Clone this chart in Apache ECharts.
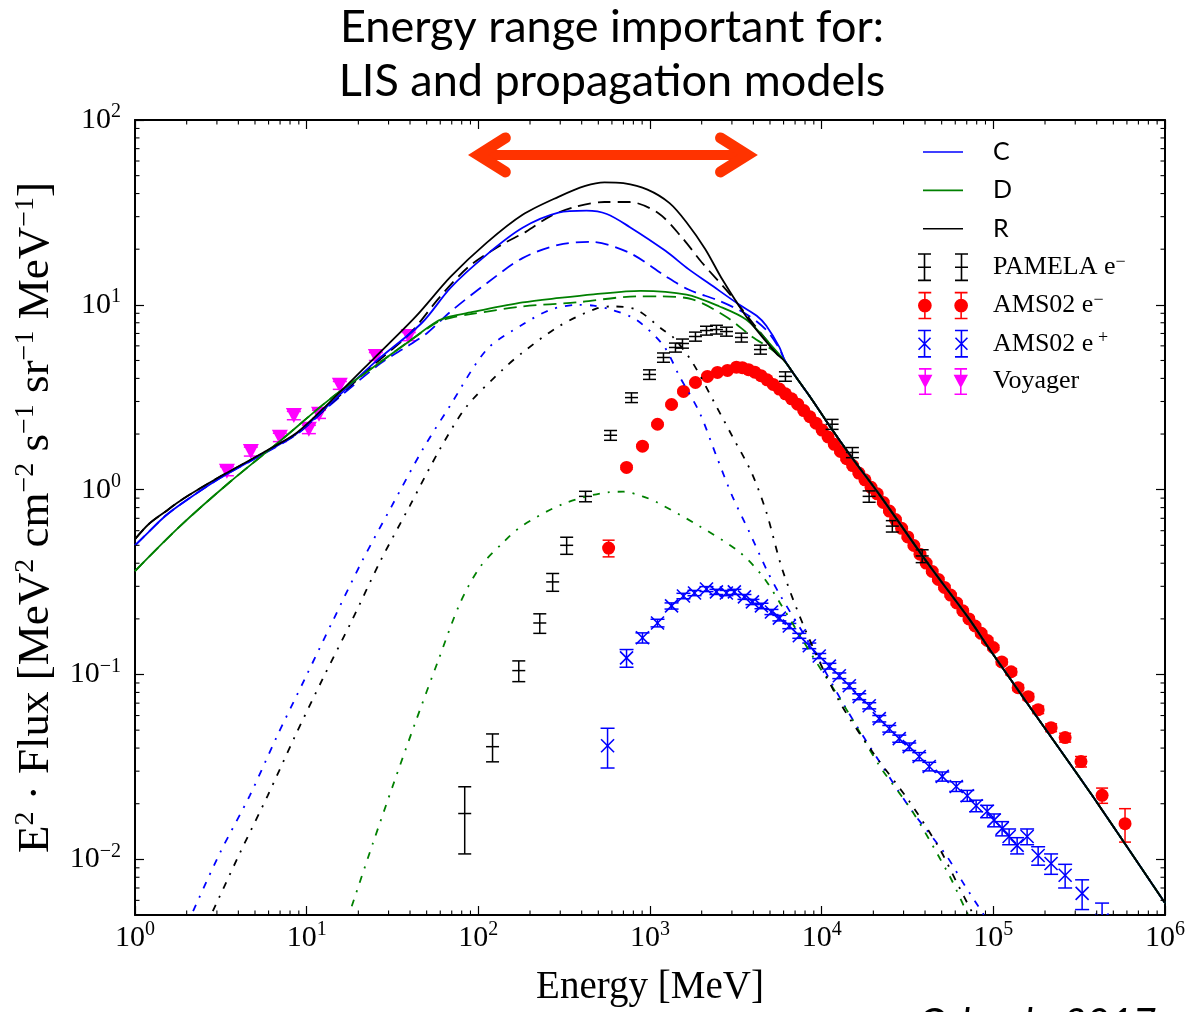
<!DOCTYPE html>
<html>
<head>
<meta charset="utf-8">
<title>Energy range important for LIS and propagation models</title>
<script src="https://cdn.jsdelivr.net/npm/echarts@6/dist/echarts.min.js"></script>
<style>
  html, body { margin: 0; padding: 0; background: #fff; }
  #chart { width: 1188px; height: 1012px; }
</style>
</head>
<body>
<div id="chart"></div>
<script>
// axis ranges and decade ticks
var xRange = [1, 1e6];
var yRange = [0.005, 100];
var xDecades = [1, 10, 100, 1e3, 1e4, 1e5, 1e6];
var yDecades = [0.01, 0.1, 1, 10, 100];

// model curves, [energy MeV, E^2 flux]; all six merge above ~7 GeV
var modelTail = [[7000, 4.13], [8830, 3.05], [11100, 2.22], [15100, 1.48], [21700, 0.94], [42300, 0.39],
  [72300, 0.2], [94600, 0.138], [155000, 0.0715], [376000, 0.0222], [1000000, 0.0058]];

var cSolid = [[1, 0.50], [1.2, 0.59], [1.5, 0.72], [1.9, 0.85], [3.1, 1.15], [5.6, 1.57], [8.8, 2.02],
  [13.6, 2.9], [25, 4.9], [47, 8.0], [69, 12.4], [112, 18.7], [181, 26.1], [293, 31.5], [427, 32.3],
  [560, 31], [760, 26.4], [1230, 19.6], [1676, 15.6], [2220, 13.0], [3320, 10.0], [4200, 8.7],
  [4760, 7.7], [5670, 5.9], [6100, 5.0]];
var dSolid = [[1, 0.363], [1.83, 0.635], [3.57, 1.10], [6.98, 1.83], [13.6, 3.08], [26.7, 4.88], [40, 6.4],
  [57, 8.1], [69, 8.65], [90, 9.1], [181, 10.3], [297, 10.9], [469, 11.4], [881, 11.9], [1633, 11.35],
  [2540, 9.8], [3645, 8.3], [5160, 5.95], [6100, 4.95]];
var rSolid = [[1, 0.54], [1.2, 0.65], [1.5, 0.76], [1.9, 0.89], [3.1, 1.17], [5.6, 1.59], [8.8, 2.04],
  [13.6, 2.97], [25, 5.2], [43, 8.6], [69, 14.2], [112, 21.7], [181, 30.7], [293, 38.4], [420, 44],
  [543, 46], [700, 45.5], [967, 42], [1300, 35.5], [1630, 28], [2100, 20], [2640, 13.7], [3650, 8.6],
  [4700, 6.4], [5500, 5.4], [6100, 4.95]];

var cDashed = [[1, 0.50], [1.2, 0.59], [1.5, 0.72], [1.9, 0.85], [3.1, 1.15], [5.6, 1.56], [8.8, 2.0],
  [13.6, 2.85], [26.7, 4.8], [39, 6.0], [50, 7.0], [69, 9.2], [112, 13.1], [181, 17.9], [293, 21.1],
  [451, 21.9], [760, 19.1], [1230, 14.3], [1676, 12.1], [2540, 10.5], [3645, 8.9], [4760, 7.3],
  [5670, 5.8], [6100, 5.0]];
var dDashed = [[1, 0.363], [1.83, 0.635], [3.57, 1.10], [6.98, 1.83], [13.6, 3.08], [26.7, 4.88], [40, 6.4],
  [57, 8.0], [69, 8.5], [90, 8.9], [181, 9.8], [371, 10.3], [835, 11.1], [1137, 11.1], [1767, 10.7],
  [2790, 8.6], [3950, 6.7], [5160, 5.7], [6100, 4.95]];
var rDashed = [[1, 0.54], [1.2, 0.65], [1.5, 0.76], [1.9, 0.89], [3.1, 1.17], [5.6, 1.58], [8.8, 2.02],
  [13.6, 2.88], [25, 4.8], [40, 7.0], [60, 11.1], [88, 16.1], [136, 21.1], [190, 24.9], [265, 30.3],
  [371, 34.0], [543, 36.0], [760, 36.0], [1115, 31.4], [1521, 23.4], [2000, 17], [2900, 11.5],
  [4000, 7.9], [5500, 5.5], [6100, 4.95]];

var cDotted = [[2.18, 0.00524], [3.12, 0.0108], [4.67, 0.0222], [6.7, 0.0461], [9.76, 0.0948], [14.2, 0.195],
  [20.9, 0.406], [31.3, 0.815], [47.4, 1.65], [68, 2.82], [112, 5.73], [181, 7.82], [264, 9.42],
  [380, 10.0], [469, 9.9], [600, 9.4], [832, 8.3], [1200, 6.0], [1486, 4.1], [1942, 2.62], [2437, 1.52],
  [3020, 0.92], [3790, 0.59], [4760, 0.372], [5670, 0.273], [8840, 0.138], [13900, 0.0653],
  [21700, 0.0338], [33700, 0.0182], [53200, 0.0105], [65900, 0.0076], [87000, 0.0051], [100000, 0.0042]];
var dDotted = [[18.3, 0.00557], [24.3, 0.0122], [31.8, 0.0251], [42.7, 0.0542], [58, 0.117], [77.9, 0.241],
  [102, 0.38], [140, 0.52], [179, 0.635], [310, 0.835], [581, 0.97], [700, 0.975], [904, 0.92],
  [1091, 0.857], [1942, 0.635], [3320, 0.46], [4520, 0.341], [5670, 0.247], [8840, 0.126],
  [13900, 0.065], [21700, 0.0321], [33700, 0.0182], [55300, 0.0082], [70000, 0.0052], [80000, 0.0042]];
var rDotted = [[2.84, 0.00524], [4.08, 0.0108], [5.94, 0.0222], [8.53, 0.0461], [12.4, 0.0948], [18.3, 0.195],
  [26.7, 0.406], [39.8, 0.815], [59.6, 1.65], [85.5, 2.82], [140, 4.5], [181, 5.52], [293, 7.63],
  [494, 9.6], [620, 9.8], [835, 9.4], [1183, 7.35], [1352, 6.74], [1767, 4.88], [2437, 2.82],
  [3020, 1.94], [3900, 1.24], [4760, 0.757], [5900, 0.37], [8130, 0.17], [12700, 0.0713],
  [19700, 0.0383], [32400, 0.0206], [48400, 0.0115], [60800, 0.0076], [75000, 0.0052], [90000, 0.0038]];

// measurements, [energy MeV, E^2 flux, error]
var pamela = [[83.3, 0.0177, 0.007], [121, 0.0407, 0.007], [172, 0.105, 0.0135], [228, 0.19, 0.023],
  [271, 0.317, 0.035], [327, 0.50, 0.053], [421, 0.92, 0.06], [589, 1.97, 0.12], [780, 3.15, 0.19],
  [993, 4.2, 0.25], [1198, 5.19, 0.3], [1407, 5.88, 0.33], [1546, 6.18, 0.35], [1840, 6.74, 0.38],
  [2133, 7.26, 0.4], [2438, 7.35, 0.4], [2789, 7.17, 0.4], [3410, 6.66, 0.37], [4400, 5.73, 0.32],
  [6150, 4.10, 0.24], [11500, 2.26, 0.14], [15100, 1.59, 0.1], [18900, 0.92, 0.065],
  [25800, 0.635, 0.045], [38500, 0.438, 0.035]];
var amsElectron = [[574, 0.483, 0.05], [730, 1.32, 0.03], [904, 1.72, 0.03], [1106, 2.26, 0.04],
  [1335, 2.89, 0.05], [1567, 3.40, 0.06], [1840, 3.80, 0.07], [2161, 4.10, 0.07], [2472, 4.31, 0.07],
  [2827, 4.42, 0.07], [3187, 4.60, 0.08], [3450, 4.57, 0.07], [3750, 4.46, 0.07], [4080, 4.32, 0.07],
  [4430, 4.14, 0.06], [4810, 3.93, 0.06], [5220, 3.71, 0.06], [5670, 3.50, 0.05], [6150, 3.30, 0.05],
  [6680, 3.10, 0.05], [7250, 2.90, 0.05], [7870, 2.68, 0.04], [8540, 2.48, 0.04], [9270, 2.29, 0.04],
  [10060, 2.10, 0.04], [10900, 1.93, 0.03], [11850, 1.76, 0.03], [12870, 1.61, 0.03], [13970, 1.47, 0.03],
  [15160, 1.35, 0.03], [16460, 1.23, 0.02], [17870, 1.13, 0.02], [19400, 1.03, 0.02], [21060, 0.95, 0.02],
  [22860, 0.853, 0.017], [24810, 0.766, 0.015], [26930, 0.689, 0.014], [29240, 0.618, 0.012],
  [31740, 0.555, 0.011], [34450, 0.499, 0.01], [37400, 0.448, 0.009], [40600, 0.401, 0.008],
  [44070, 0.361, 0.008], [47840, 0.327, 0.007], [51930, 0.296, 0.007], [56370, 0.269, 0.006],
  [61190, 0.244, 0.006], [66420, 0.221, 0.005], [72100, 0.200, 0.005], [78270, 0.183, 0.005],
  [84960, 0.167, 0.005], [92230, 0.153, 0.005], [100000, 0.140, 0.004], [112000, 0.117, 0.004],
  [127000, 0.1035, 0.004], [139500, 0.0848, 0.003], [159700, 0.0759, 0.003], [182500, 0.0645, 0.003],
  [217000, 0.0516, 0.0025], [262000, 0.0456, 0.0025], [324000, 0.0338, 0.0022], [430000, 0.0222, 0.0021],
  [585000, 0.0156, 0.0032]];
var amsPositron = [[566, 0.0412, 0.0100], [730, 0.123, 0.0135], [904, 0.158, 0.010], [1106, 0.190, 0.009],
  [1335, 0.235, 0.009], [1566, 0.266, 0.009], [1816, 0.276, 0.009], [2133, 0.290, 0.009], [2437, 0.280, 0.009],
  [2786, 0.276, 0.009], [3100, 0.280, 0.009], [3550, 0.263, 0.008], [3950, 0.247, 0.008], [4460, 0.235, 0.008],
  [5100, 0.218, 0.007], [5670, 0.202, 0.007], [6480, 0.183, 0.006], [7410, 0.162, 0.005], [8470, 0.143, 0.005],
  [9680, 0.126, 0.004], [11090, 0.111, 0.004], [12670, 0.0985, 0.0035], [14490, 0.0869, 0.0031],
  [16560, 0.0759, 0.0028], [18930, 0.0678, 0.0026], [21660, 0.0577, 0.0023], [24770, 0.0509, 0.0021],
  [28320, 0.0450, 0.002], [32380, 0.0407, 0.0019], [37000, 0.0360, 0.0018], [42330, 0.0318, 0.0017],
  [50400, 0.0281, 0.0016], [60800, 0.0248, 0.0015], [70500, 0.0221, 0.0015], [79400, 0.0195, 0.0014],
  [92000, 0.0182, 0.0014], [101000, 0.0163, 0.0013], [112500, 0.0147, 0.0013], [123600, 0.0133, 0.0013],
  [137600, 0.0119, 0.0012], [157300, 0.0133, 0.0013], [182400, 0.0105, 0.0012], [217000, 0.0095, 0.0012],
  [262000, 0.0082, 0.0012], [329000, 0.00655, 0.0012], [430000, 0.0047, 0.0011]];
var voyager = [[3.43, 1.26, 0.07], [4.73, 1.61, 0.09], [6.98, 1.92, 0.1], [8.42, 2.52, 0.13], [10.3, 2.12, 0.11],
  [11.8, 2.56, 0.13], [15.6, 3.67, 0.18], [25.3, 5.26, 0.26], [39.3, 6.74, 0.34]];

// annotation arrow: [left energy, right energy, flux level]
var arrowSpan = [100, 3700, 64.7];

var serif = '"Liberation Serif", "Times New Roman", serif';
var sans = 'Lato, Calibri, "Open Sans", sans-serif';
var BLUE = '#0000ff', GREEN = '#008000', BLACK = '#000000', RED = '#ff0000', MAGENTA = '#ff00ff';

function minorTicks(range) {
  var out = [];
  for (var d = 1e-3; d < range[1]; d *= 10) {
    for (var k = 2; k <= 9; k++) {
      var v = +(k * d).toPrecision(6);
      if (v > range[0] && v < range[1]) out.push(v);
    }
  }
  return out;
}
var xMinor = minorTicks(xRange), yMinor = minorTicks(yRange);

function powLabel(v) {
  var e = Math.round(Math.log10(v));
  return '{b|10}{e|' + (e < 0 ? '\u2212' + (-e) : e) + '}';
}
var labelRich = {
  b: { fontFamily: serif, fontSize: 30, lineHeight: 36, color: '#000' },
  e: { fontFamily: serif, fontSize: 20, lineHeight: 20, verticalAlign: 'top', color: '#000' }
};

function logAxis(dim, pos, ticks) {
  var r = dim === 'x' ? xRange : yRange;
  return {
    type: 'log', logBase: 10, position: pos, min: r[0], max: r[1],
    axisLine: { show: true, onZero: false, lineStyle: { color: '#000', width: 2 } },
    axisTick: { show: true, inside: true, length: 9, customValues: ticks, lineStyle: { color: '#000', width: 1.2 } },
    axisLabel: { show: false },
    splitLine: { show: false },
    minorTick: { show: false }
  };
}

var xMain = logAxis('x', 'bottom', xDecades);
xMain.axisLabel = { show: true, customValues: xDecades, formatter: powLabel, margin: 5, rich: labelRich };
xMain.name = 'Energy [MeV]';
xMain.nameLocation = 'middle';
xMain.nameGap = 53;
xMain.nameTextStyle = { fontFamily: serif, fontSize: 39, color: '#000' };

var yMain = logAxis('y', 'left', yDecades);
yMain.axisLabel = { show: true, customValues: yDecades, formatter: powLabel, margin: 14, rich: labelRich };
yMain.name = '{n|E}{s|2}{n| \u00b7 Flux [MeV}{s|2}{n| cm}{s|\u22122}{n| s}{s|\u22121}{n| sr}{s|\u22121}{n| MeV}{s|\u22121}{n|]}';
yMain.nameLocation = 'middle';
yMain.nameGap = 71;
yMain.nameTextStyle = {
  color: '#000',
  rich: {
    n: { fontFamily: serif, fontSize: 45, lineHeight: 50, color: '#000' },
    s: { fontFamily: serif, fontSize: 28, lineHeight: 28, verticalAlign: 'top', color: '#000' }
  }
};

// minor ticks on all four sides, placed through the axis scales
function minorTickSeries(dim) {
  var data = dim === 'x'
    ? xMinor.map(function (v) { return [v, yRange[0]]; })
    : yMinor.map(function (v) { return [xRange[0], v]; });
  return {
    type: 'custom', name: dim + ' minor ticks', data: data, clip: false, silent: true, z: 4,
    renderItem: function (params, api) {
      var st = { stroke: '#000', lineWidth: 1.1 };
      var len = 4.5;
      if (dim === 'x') {
        var v = api.value(0);
        var b = api.coord([v, yRange[0]]), t = api.coord([v, yRange[1]]);
        return { type: 'group', children: [
          { type: 'line', shape: { x1: b[0], y1: b[1], x2: b[0], y2: b[1] - len }, style: st },
          { type: 'line', shape: { x1: t[0], y1: t[1], x2: t[0], y2: t[1] + len }, style: st }
        ] };
      }
      var w = api.value(1);
      var l = api.coord([xRange[0], w]), r = api.coord([xRange[1], w]);
      return { type: 'group', children: [
        { type: 'line', shape: { x1: l[0], y1: l[1], x2: l[0] + len, y2: l[1] }, style: st },
        { type: 'line', shape: { x1: r[0], y1: r[1], x2: r[0] - len, y2: r[1] }, style: st }
      ] };
    }
  };
}

// legend icons (50 x 28 boxes)
function rect(x, y, w, h) { return 'M' + x + ',' + y + 'h' + w + 'v' + h + 'h' + (-w) + 'z'; }
function bar(cx) { return rect(cx - 6.5, 0, 13, 1.6) + rect(cx - 0.8, 0, 1.6, 28) + rect(cx - 6.5, 26.4, 13, 1.6); }
function circ(cx, cy, r) {
  return 'M' + (cx - r) + ',' + cy + 'a' + r + ',' + r + ' 0 1,1 ' + (2 * r) + ',0a' + r + ',' + r + ' 0 1,1 ' + (-2 * r) + ',0z';
}
function seg(x1, y1, x2, y2, w) {
  var dx = x2 - x1, dy = y2 - y1, L = Math.sqrt(dx * dx + dy * dy);
  var nx = dy / L * w / 2, ny = -dx / L * w / 2;
  return 'M' + (x1 + nx) + ',' + (y1 + ny) + 'L' + (x2 + nx) + ',' + (y2 + ny) +
    'L' + (x2 - nx) + ',' + (y2 - ny) + 'L' + (x1 - nx) + ',' + (y1 - ny) + 'z';
}
function iconOf(glyph) { return 'path://' + glyph(6.5) + glyph(43.5); }
var lineIcon = 'path://M0,0L0,0M50,28L50,28' + rect(5, 13.2, 40, 1.6);
var pamelaIcon = iconOf(function (c) { return bar(c) + rect(c - 6.5, 13.2, 13, 1.6); });
var electronIcon = iconOf(function (c) { return bar(c) + circ(c, 14, 7); });
var positronIcon = iconOf(function (c) { return bar(c) + seg(c - 6, 8, c + 6, 20, 1.6) + seg(c + 6, 8, c - 6, 20, 1.6); });
var voyagerIcon = iconOf(function (c) { return bar(c) + 'M' + (c - 7.5) + ',7L' + (c + 7.5) + ',7L' + c + ',21z'; });

var legendText = {
  'C': '{sans|C}', 'D': '{sans|D}', 'R': '{sans|R}',
  'PAMELA e\u2212': '{serif|PAMELA e}{sup|\u2212}',
  'AMS02 e\u2212': '{serif|AMS02 e}{sup|\u2212}',
  'AMS02 e+': '{serif|AMS02 e}{sup| +}',
  'Voyager': '{serif|Voyager}'
};

function modelLine(name, data, color, type) {
  return {
    type: 'line', name: name, data: data, showSymbol: false, symbol: 'none',
    smooth: 0.3, clip: true, z: 3,
    itemStyle: { color: color },
    lineStyle: { color: color, width: 1.8, type: type }
  };
}
function withTail(arr) { return arr.concat(modelTail); }

// error bar + marker drawn through the axes' scales
function errorSeries(name, data, color, marker, capHalf) {
  return {
    type: 'custom', name: name, data: data, clip: true, z: 2,
    itemStyle: { color: color },
    renderItem: function (params, api) {
      var e = api.value(0), f = api.value(1), s = api.value(2);
      var p = api.coord([e, f]);
      var lo = api.coord([e, Math.max(f - s, 1e-6)]);
      var hi = api.coord([e, f + s]);
      var ln = { stroke: color, lineWidth: 1.5 };
      var kids = [
        { type: 'line', shape: { x1: p[0], y1: lo[1], x2: p[0], y2: hi[1] }, style: ln },
        { type: 'line', shape: { x1: p[0] - capHalf, y1: lo[1], x2: p[0] + capHalf, y2: lo[1] }, style: ln },
        { type: 'line', shape: { x1: p[0] - capHalf, y1: hi[1], x2: p[0] + capHalf, y2: hi[1] }, style: ln }
      ];
      if (marker === 'dash') {
        kids.push({ type: 'line', shape: { x1: p[0] - capHalf, y1: p[1], x2: p[0] + capHalf, y2: p[1] }, style: ln });
      } else if (marker === 'circle') {
        kids.push({ type: 'circle', shape: { cx: p[0], cy: p[1], r: 6.5 }, style: { fill: color } });
      } else if (marker === 'x') {
        var xs = { stroke: color, lineWidth: 1.6 };
        kids.push({ type: 'line', shape: { x1: p[0] - 6.5, y1: p[1] - 6.5, x2: p[0] + 6.5, y2: p[1] + 6.5 }, style: xs });
        kids.push({ type: 'line', shape: { x1: p[0] - 6.5, y1: p[1] + 6.5, x2: p[0] + 6.5, y2: p[1] - 6.5 }, style: xs });
      } else if (marker === 'tri') {
        kids.push({ type: 'polygon', shape: { points: [[p[0] - 8, p[1] - 7.5], [p[0] + 8, p[1] - 7.5], [p[0], p[1] + 7.5]] }, style: { fill: color } });
      }
      return { type: 'group', children: kids };
    }
  };
}

var chart = echarts.init(document.getElementById('chart'));
var option = {
  animation: false,
  backgroundColor: '#fff',
  title: {
    text: 'Energy range important for:\nLIS and propagation models',
    left: 612, top: 0, padding: 0, textAlign: 'center',
    textStyle: { fontFamily: sans, fontSize: 45, fontWeight: 'normal', lineHeight: 54, color: '#000' }
  },
  grid: { left: 135, right: 22, top: 120, bottom: 96, containLabel: false },
  xAxis: [xMain, logAxis('x', 'top', xDecades)],
  yAxis: [yMain, logAxis('y', 'right', yDecades)],
  legend: {
    orient: 'vertical', left: 918, top: 138, padding: 0,
    itemWidth: 50, itemHeight: 28, itemGap: 10.4,
    itemStyle: { borderWidth: 0 },
    data: [
      { name: 'C', icon: lineIcon }, { name: 'D', icon: lineIcon }, { name: 'R', icon: lineIcon },
      { name: 'PAMELA e\u2212', icon: pamelaIcon }, { name: 'AMS02 e\u2212', icon: electronIcon },
      { name: 'AMS02 e+', icon: positronIcon }, { name: 'Voyager', icon: voyagerIcon }
    ],
    formatter: function (name) { return legendText[name]; },
    textStyle: {
      color: '#000',
      rich: {
        sans: { fontFamily: sans, fontSize: 25, lineHeight: 28, padding: [0, 0, 0, 20], color: '#000' },
        serif: { fontFamily: serif, fontSize: 26, lineHeight: 28, padding: [0, 0, 0, 20], color: '#000' },
        sup: { fontFamily: serif, fontSize: 18, lineHeight: 18, verticalAlign: 'top', color: '#000' }
      }
    }
  },
  graphic: [{
    type: 'text', left: 918, top: 1004, silent: true,
    style: { text: 'Orlando 2017 et al.', fontFamily: sans, fontSize: 40, fontStyle: 'italic', fill: '#000' }
  }],
  series: [
    minorTickSeries('x'),
    minorTickSeries('y'),
    errorSeries('Voyager', voyager, MAGENTA, 'tri', 7),
    errorSeries('AMS02 e\u2212', amsElectron, RED, 'circle', 6),
    errorSeries('AMS02 e+', amsPositron, BLUE, 'x', 7),
    errorSeries('PAMELA e\u2212', pamela, BLACK, 'dash', 6.5),
    modelLine('C dotted', cDotted, BLUE, [7, 8, 2, 8]),
    modelLine('D dotted', dDotted, GREEN, [7, 8, 2, 8]),
    modelLine('R dotted', rDotted, BLACK, [7, 8, 2, 8]),
    modelLine('C dashed', withTail(cDashed), BLUE, [13, 7]),
    modelLine('D dashed', withTail(dDashed), GREEN, [13, 7]),
    modelLine('R dashed', withTail(rDashed), BLACK, [13, 7]),
    modelLine('C', withTail(cSolid), BLUE, 'solid'),
    modelLine('D', withTail(dSolid), GREEN, 'solid'),
    modelLine('R', withTail(rSolid), BLACK, 'solid'),
    {
      type: 'custom', name: 'range arrow', data: [arrowSpan], clip: false, silent: true, z: 5,
      encode: { x: [0, 1], y: 2 },
      renderItem: function (params, api) {
        var a = api.coord([api.value(0), api.value(2)]);
        var b = api.coord([api.value(1), api.value(2)]);
        var st = { stroke: '#ff3300', lineWidth: 11, lineCap: 'round', lineJoin: 'miter', fill: null };
        var hl = 27, hw = 17;
        return {
          type: 'group', children: [
            { type: 'line', shape: { x1: a[0], y1: a[1], x2: b[0], y2: b[1] }, style: { stroke: '#ff3300', lineWidth: 10 } },
            { type: 'polyline', shape: { points: [[a[0] + hl, a[1] - hw], [a[0], a[1]], [a[0] + hl, a[1] + hw]] }, style: st },
            { type: 'polyline', shape: { points: [[b[0] - hl, b[1] - hw], [b[0], b[1]], [b[0] - hl, b[1] + hw]] }, style: st }
          ]
        };
      }
    }
  ]
};
chart.setOption(option);
</script>
</body>
</html>
